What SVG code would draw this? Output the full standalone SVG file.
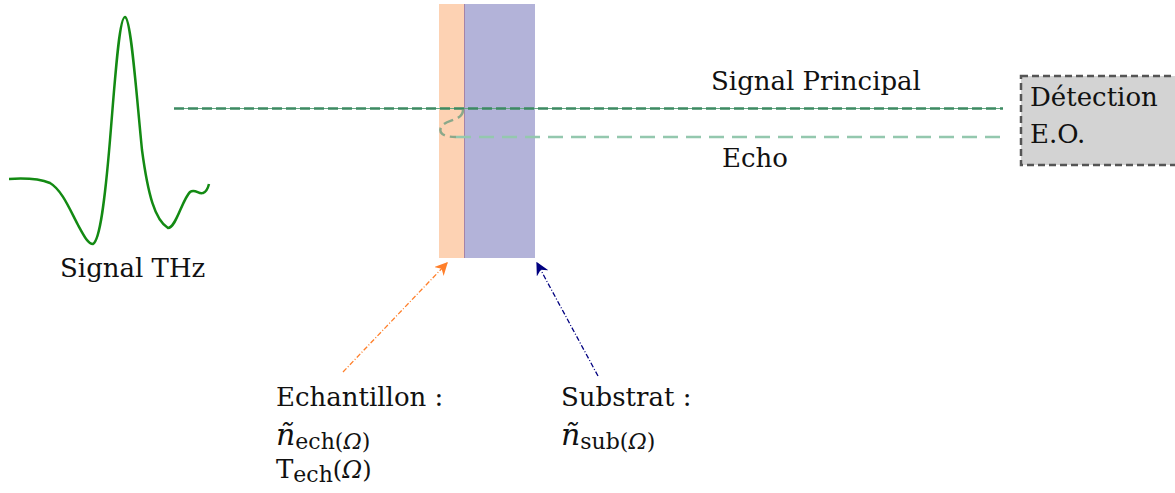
<svg xmlns="http://www.w3.org/2000/svg" width="1175" height="493" viewBox="0 0 1175 493">
<style>
text{font-family:"DejaVu Serif","Liberation Serif",serif;fill:#111;font-size:26px}
.sub{font-size:22px}
.it{font-style:italic}
</style>
<defs>
<marker id="ao" viewBox="0 0 10 10" refX="9" refY="5" markerWidth="13" markerHeight="13" orient="auto" markerUnits="userSpaceOnUse"><path d="M0,0 L10,5 L0,10 L3,5 z" fill="#ff7f2a"/></marker>
<marker id="ab" viewBox="0 0 10 10" refX="9" refY="5" markerWidth="13" markerHeight="13" orient="auto" markerUnits="userSpaceOnUse"><path d="M0,0 L10,5 L0,10 L3,5 z" fill="#000080"/></marker>
</defs>
<g id="sample">
<rect x="439" y="4" width="25" height="254" fill="#fdd2b3"/>
</g>
<g id="substrate">
<rect x="464" y="4" width="71" height="254" fill="#b3b3d9"/>
<line x1="464.5" y1="4" x2="464.5" y2="258" stroke="#a584a8" stroke-width="1"/>
</g>
<g id="thz">
<path d="M9,179 C25,178 40,179 50,183 C62,190 70,210 78,225 C84,236 88,244 93,244 C100,240 105,200 110,140 C115,80 119,17 125,17 C131,18 136,90 142,150 C148,195 155,220 168,228 C176,228 182,200 190,192 C195,188 199,195 203,193 C206,192 208,188 209,184" fill="none" stroke="#138a13" stroke-width="2.5"/>
<text x="60" y="277">Signal THz</text>
</g>
<g id="connectors">
<line x1="174" y1="108.5" x2="1003" y2="108.5" stroke="#64a882" stroke-width="1"/>
<line x1="174" y1="108.5" x2="1003" y2="108.5" stroke="#3c8a62" stroke-width="2.5" stroke-dasharray="10,4"/>
<path d="M463,110 C463,121 446,119 441,127 C438,134 445,137 456,137" fill="none" stroke="#8aa88a" stroke-width="2.5" stroke-dasharray="10,5"/>
<line x1="456" y1="137" x2="1003" y2="137" stroke="#94c8ae" stroke-width="2.5" stroke-dasharray="15,8"/>
<line x1="343" y1="372" x2="447" y2="263" stroke="#ff7f2a" stroke-width="1.3" stroke-dasharray="5,2,1,2" marker-end="url(#ao)"/>
<line x1="598" y1="376" x2="537" y2="263" stroke="#000080" stroke-width="1.3" stroke-dasharray="5,2,1,2" marker-end="url(#ab)"/>
</g>
<g id="labels">
<text x="711" y="90">Signal Principal</text>
<text x="722" y="167">Echo</text>
</g>
<g id="detection">
<rect x="1021" y="76" width="160" height="89" fill="#d3d3d3" stroke="#555" stroke-width="2.5" stroke-dasharray="7,4"/>
<text x="1030" y="106">Détection</text>
<text x="1030" y="143">E.O.</text>
</g>
<g id="echantillon">
<text x="276" y="406">Echantillon :</text>
<text x="276" y="445"><tspan class="it" font-size="30">ñ</tspan><tspan class="sub" dy="4">ech(</tspan><tspan class="sub it">Ω</tspan><tspan class="sub">)</tspan></text>
<text x="276" y="478">T<tspan class="sub" dy="4">ech</tspan><tspan dy="-4" font-size="24">(</tspan><tspan class="it" font-size="24">Ω</tspan><tspan font-size="24">)</tspan></text>
</g>
<g id="substrat">
<text x="561" y="406">Substrat :</text>
<text x="561" y="445"><tspan class="it" font-size="30">ñ</tspan><tspan class="sub" dy="4">sub(</tspan><tspan class="sub it">Ω</tspan><tspan class="sub">)</tspan></text>
</g>
</svg>
